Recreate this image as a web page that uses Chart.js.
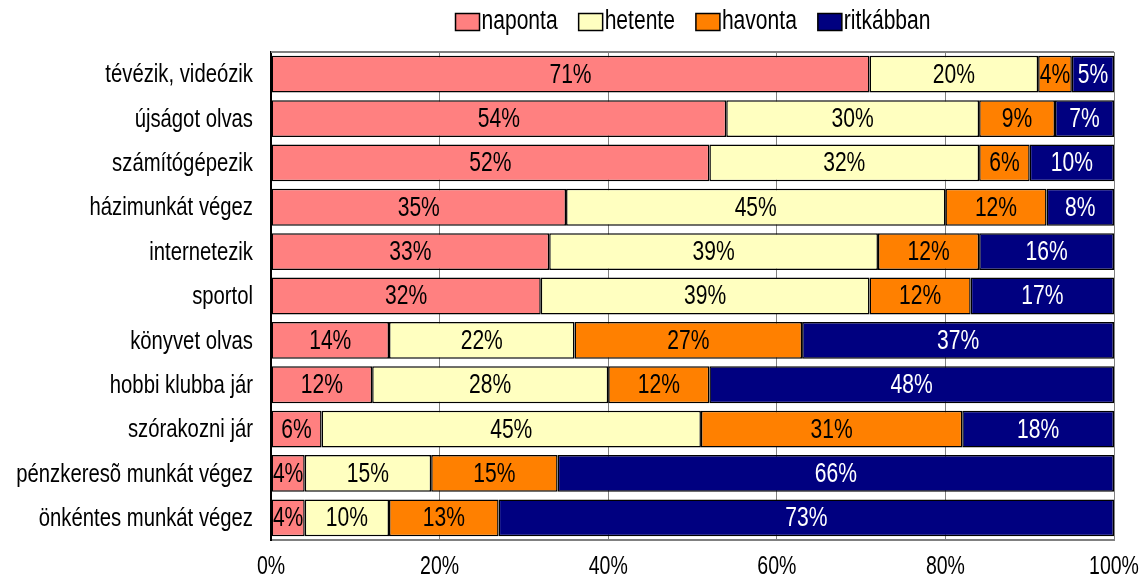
<!DOCTYPE html>
<html>
<head>
<meta charset="utf-8">
<script src="https://cdn.jsdelivr.net/npm/chart.js@4/dist/chart.umd.min.js"></script>
<style>
  html, body { margin: 0; padding: 0; background: #fff; }
  #wrap { width: 1145px; height: 579px; }
</style>
</head>
<body>
<div id="wrap"><canvas id="barChart" width="1145" height="579"></canvas></div>
<script>
// Categories (top to bottom)
const categories = [
  "tévézik, videózik",
  "újságot olvas",
  "számítógépezik",
  "házimunkát végez",
  "internetezik",
  "sportol",
  "könyvet olvas",
  "hobbi klubba jár",
  "szórakozni jár",
  "pénzkeresõ munkát végez",
  "önkéntes munkát végez"
];

// Series values (%)
const naponta   = [71, 54, 52, 35, 33, 32, 14, 12, 6, 4, 4];
const hetente   = [20, 30, 32, 45, 39, 39, 22, 28, 45, 15, 10];
const havonta   = [4, 9, 6, 12, 12, 12, 27, 12, 31, 15, 13];
const ritkabban = [5, 7, 10, 8, 16, 17, 37, 48, 18, 66, 73];

const xTicks = [0, 20, 40, 60, 80, 100];

const FONT = "'Liberation Sans', Arial, sans-serif";
const SQUEEZE = 0.78; // the original uses a narrow font

// draw text squeezed horizontally to look like a narrow font
function narrowText(ctx, text, x, y, size, align, color) {
  ctx.save();
  ctx.font = size + "px " + FONT;
  ctx.fillStyle = color;
  ctx.textAlign = align;
  ctx.textBaseline = 'middle';
  ctx.translate(x, y);
  ctx.scale(SQUEEZE, 1);
  ctx.fillText(text, 0, 0);
  ctx.restore();
}
function narrowWidth(ctx, text, size) {
  ctx.save();
  ctx.font = size + "px " + FONT;
  const w = ctx.measureText(text).width * SQUEEZE;
  ctx.restore();
  return w;
}

const textPlugin = {
  id: 'textPlugin',
  beforeDatasetsDraw(chart) {
    // top border of the plot area
    const ctx = chart.ctx, a = chart.chartArea;
    ctx.save();
    ctx.strokeStyle = '#808080';
    ctx.lineWidth = 2;
    ctx.beginPath();
    ctx.moveTo(a.left, a.top);
    ctx.lineTo(a.right, a.top);
    ctx.stroke();
    ctx.restore();
  },
  afterDraw(chart) {
    const ctx = chart.ctx;
    const xs = chart.scales.x, ys = chart.scales.y;

    // value labels
    chart.data.datasets.forEach((ds, i) => {
      chart.getDatasetMeta(i).data.forEach((bar, j) => {
        narrowText(ctx, ds.data[j] + '%', (bar.x + bar.base) / 2, bar.y + 1, 27, 'center', ds.labelColor);
      });
    });

    // category labels
    chart.data.labels.forEach((lab, i) => {
      narrowText(ctx, lab, xs.left - 18, ys.getPixelForTick(i) + 1, 26, 'right', '#000');
    });

    // x tick labels
    xTicks.forEach(v => {
      narrowText(ctx, v + '%', xs.getPixelForValue(v), 567, 25, 'center', '#000');
    });

    // legend
    const boxW = 24, boxH = 17, gap = 2, itemGap = 21, size = 27;
    const items = chart.data.datasets.map(ds => ({ ds, w: narrowWidth(ctx, ds.label, size) }));
    let total = 0;
    items.forEach(it => { total += boxW + gap + it.w; });
    total += itemGap * (items.length - 1);
    let x = 693 - total / 2;
    const cy = 22;
    items.forEach(it => {
      ctx.save();
      ctx.fillStyle = it.ds.backgroundColor;
      ctx.fillRect(x, cy - boxH / 2, boxW, boxH);
      ctx.strokeStyle = '#000';
      ctx.lineWidth = 1.5;
      ctx.strokeRect(x, cy - boxH / 2, boxW, boxH);
      ctx.restore();
      narrowText(ctx, it.ds.label, x + boxW + gap, cy, size, 'left', '#000');
      x += boxW + gap + it.w + itemGap;
    });
  }
};

function makeSet(label, data, color, labelColor) {
  return {
    label: label,
    data: data,
    backgroundColor: color,
    borderColor: '#000000',
    borderWidth: 1.5,
    borderSkipped: false,
    barPercentage: 0.83,
    categoryPercentage: 1.0,
    labelColor: labelColor
  };
}

const data = {
  labels: categories,
  datasets: [
    makeSet('naponta', naponta, '#FF8080', '#000000'),
    makeSet('hetente', hetente, '#FFFFC0', '#000000'),
    makeSet('havonta', havonta, '#FF8000', '#000000'),
    makeSet('ritkábban', ritkabban, '#000080', '#FFFFFF')
  ]
};

const options = {
  responsive: false,
  animation: false,
  indexAxis: 'y',
  layout: { padding: { top: 52, right: 31, bottom: 0, left: 0 } },
  plugins: {
    legend: { display: false },
    tooltip: { enabled: false }
  },
  scales: {
    x: {
      stacked: true,
      min: 0,
      max: 100,
      afterBuildTicks(scale) {
        scale.ticks = xTicks.map(v => ({ value: v }));
      },
      afterFit(scale) { scale.height = 39; },
      ticks: { display: false },
      grid: { color: '#808080', lineWidth: 1, drawTicks: false },
      border: { color: '#808080', width: 2 }
    },
    y: {
      stacked: true,
      afterFit(scale) { scale.width = 271; },
      ticks: { display: false },
      grid: { display: false, drawTicks: false },
      border: { color: '#000', width: 2 }
    }
  }
};

const ctx = document.getElementById('barChart').getContext('2d');
const barChart = new Chart(ctx, {
  type: 'bar',
  data: data,
  options: options,
  plugins: [textPlugin]
});
</script>
</body>
</html>
